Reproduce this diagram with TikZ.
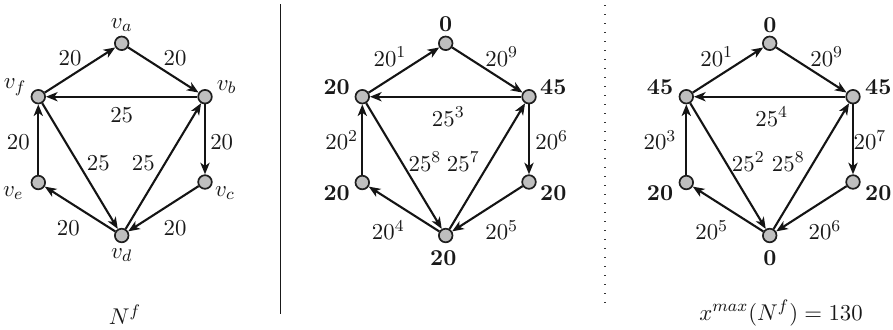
\documentclass[tikz,border=0pt]{standalone}
\usetikzlibrary{arrows.meta}
\begin{document}
\begin{tikzpicture}[x=0.5pt,y=-0.5pt,
  vtx/.style={circle,draw=black!88,fill=black!25,line width=0.85pt,minimum size=6.8pt,inner sep=0pt},
  arc/.style={line width=1.05pt,draw=black!92,-{Stealth[length=5.8pt,width=4.6pt,inset=1.6pt]}},
  lab/.style={font=\fontsize{10.95}{13}\selectfont,inner sep=0pt,text=black!90,transform shape,scale=1.04},
  blab/.style={lab,font=\fontsize{10.95}{13}\selectfont\bfseries},
]
\useasboundingbox (0,0) rectangle (893,329);
% vertices and arcs of the three graphs
\foreach \o/\p in {0/L,324/M,648/R}{
  \node[vtx] (\p a) at ({121.7+\o},43.3) {};
  \node[vtx] (\p b) at ({205+\o},96.7) {};
  \node[vtx] (\p c) at ({205+\o},182) {};
  \node[vtx] (\p d) at ({121.7+\o},235.5) {};
  \node[vtx] (\p e) at ({38.3+\o},182.5) {};
  \node[vtx] (\p f) at ({38.3+\o},96.7) {};
  \draw[arc] (\p f) -- (\p a);
  \draw[arc] (\p a) -- (\p b);
  \draw[arc] (\p b) -- (\p f);
  \draw[arc] (\p b) -- (\p c);
  \draw[arc] (\p c) -- (\p d);
  \draw[arc] (\p d) -- (\p e);
  \draw[arc] (\p e) -- (\p f);
  \draw[arc] (\p f) -- (\p d);
  \draw[arc] (\p d) -- (\p b);
}
% left graph labels
\node[lab] (La1) at (121.7,25) {$v_a$};
\node[lab] (Lb1) at (226.7,87) {$v_b$};
\node[lab] (Lc1) at (225,193) {$v_c$};
\node[lab] (Ld1) at (121.7,255) {$v_d$};
\node[lab] (Le1) at (13.3,193) {$v_e$};
\node[lab] (Lf1) at (15,87) {$v_f$};
\node[lab] (Lw1) at (70,58) {$20$};
\node[lab] (Lw2) at (175,58) {$20$};
\node[lab] (Lw3) at (121.7,115) {$25$};
\node[lab] (Lw4) at (18.3,141.7) {$20$};
\node[lab] (Lw5) at (221.7,141.7) {$20$};
\node[lab] (Lw6) at (98.3,163.3) {$25$};
\node[lab] (Lw7) at (143.3,163.3) {$25$};
\node[lab] (Lw8) at (68.3,228.3) {$20$};
\node[lab] (Lw9) at (175,228.3) {$20$};
\node[lab] (Ltitle) at (125,315) {$N^f$};
% middle graph labels
\node[blab] (Ma1) at (445.7,24) {0};
\node[blab] (Mb1) at (553.3,87.3) {45};
\node[blab] (Mc1) at (553.3,193.3) {20};
\node[blab] (Md1) at (443.3,258.3) {20};
\node[blab] (Me1) at (336.7,193.3) {20};
\node[blab] (Mf1) at (336.7,87.3) {20};
\node[lab] (Mw1) at (390,56.7) {$20^1$};
\node[lab] (Mw2) at (501.7,56.7) {$20^9$};
\node[lab] (Mw3) at (448.3,116.7) {$25^3$};
\node[lab] (Mw4) at (341.7,140) {$20^2$};
\node[lab] (Mw5) at (551.7,140) {$20^6$};
\node[lab] (Mw6) at (425,161.7) {$25^8$};
\node[lab] (Mw7) at (463.3,161.7) {$25^7$};
\node[lab] (Mw8) at (388.3,230) {$20^4$};
\node[lab] (Mw9) at (501.7,230) {$20^5$};
% right graph labels
\node[blab] (Ra1) at (770,25) {0};
\node[blab] (Rb1) at (878.3,87.3) {45};
\node[blab] (Rc1) at (878.3,193.3) {20};
\node[blab] (Rd1) at (770,258.3) {0};
\node[blab] (Re1) at (660,193.3) {20};
\node[blab] (Rf1) at (660,87.3) {45};
\node[lab] (Rw1) at (716.7,56.7) {$20^1$};
\node[lab] (Rw2) at (826.7,56.7) {$20^9$};
\node[lab] (Rw3) at (771.7,116.7) {$25^4$};
\node[lab] (Rw4) at (660,140) {$20^3$};
\node[lab] (Rw5) at (870,140) {$20^7$};
\node[lab] (Rw6) at (748.3,161.7) {$25^2$};
\node[lab] (Rw7) at (788.3,161.7) {$25^8$};
\node[lab] (Rw8) at (711.7,230) {$20^5$};
\node[lab] (Rw9) at (825,230) {$20^6$};
\node[lab] (Rtitle) at (781,313) {$x^{max}(N^f) = 130$};
% separators
\coordinate (s1t) at (280.7,4);
\coordinate (s1b) at (280.7,314);
\draw[line width=0.6pt,black!90] (s1t) -- (s1b);
\coordinate (s2t) at (605,5);
\coordinate (s2b) at (605,309);
\draw[line width=0.9pt,black!80,dash pattern=on 0.7pt off 3.8pt] (s2t) -- (s2b);
\end{tikzpicture}
\end{document}
